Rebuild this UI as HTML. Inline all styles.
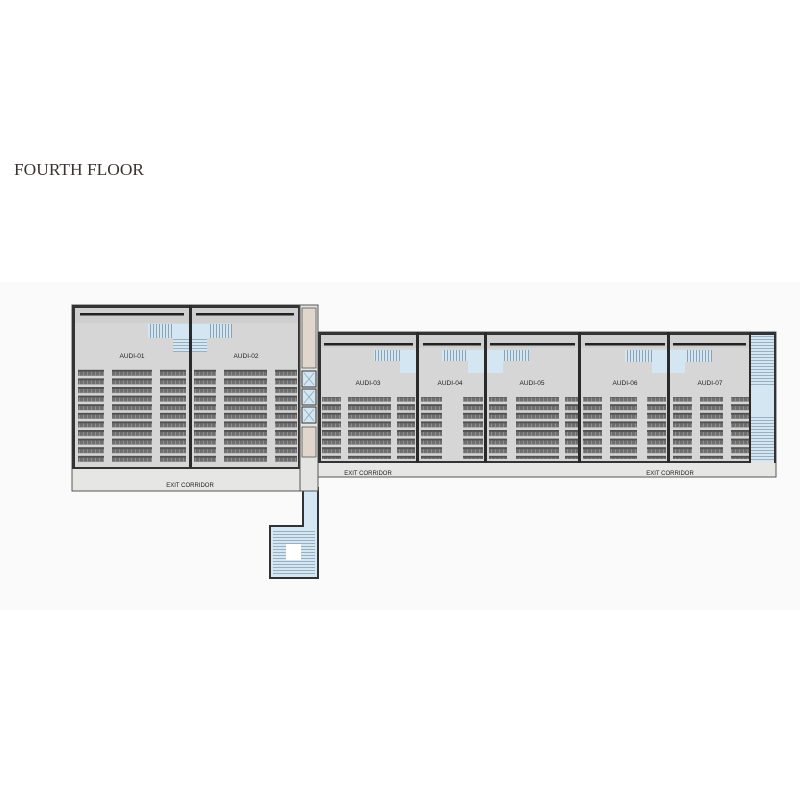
<!DOCTYPE html>
<html><head><meta charset="utf-8"><style>
html,body{margin:0;padding:0;background:#fff;width:800px;height:800px;overflow:hidden}
</style></head><body>
<svg width="800" height="800" viewBox="0 0 800 800" xmlns="http://www.w3.org/2000/svg" font-family="Liberation Sans, sans-serif">
<defs>
<pattern id="seat" x="0" y="0" width="4" height="8.6" patternUnits="userSpaceOnUse">
<rect x="0" y="0" width="4" height="6" fill="#6e6e6e"/>
<rect x="0" y="0" width="4" height="1.8" fill="#505050"/>
<rect x="3.3" y="2" width="0.7" height="4" fill="#9a9a9a"/>
</pattern>
<pattern id="stair" x="0" y="0" width="3" height="3" patternUnits="userSpaceOnUse">
<rect width="3" height="3" fill="#d3e6f1"/><rect width="1" height="3" fill="#8aa4b4"/>
</pattern>
<pattern id="stairh" x="0" y="0" width="3" height="3" patternUnits="userSpaceOnUse">
<rect width="3" height="3" fill="#d3e6f1"/><rect width="3" height="0.8" fill="#8aa4b4"/>
</pattern>
</defs>
<rect x="0" y="282" width="800" height="328" fill="#fafafa"/>
<text x="14" y="175" font-family="Liberation Serif, serif" font-size="17" fill="#3a3230" textLength="130" lengthAdjust="spacingAndGlyphs">FOURTH FLOOR</text>

<path d="M303 488 L318 488 L318 578 L270 578 L270 526 L303 526 Z" fill="#d5e7f2" stroke="#333" stroke-width="2"/>
<rect x="273" y="529" width="42" height="46" fill="url(#stairh)"/>
<rect x="286" y="544" width="15" height="16" fill="#fff"/>

<rect x="72" y="305" width="228" height="186" fill="#e6e6e4" stroke="#555" stroke-width="1"/>
<rect x="74" y="307" width="224" height="162" fill="#d6d6d6"/>
<rect x="74" y="307" width="224" height="16" fill="#cfcfcf"/>
<rect x="80" y="313" width="104" height="2.5" fill="#222"/>
<rect x="196" y="313" width="98" height="2.5" fill="#222"/>
<rect x="148" y="324" width="84" height="14" fill="url(#stair)"/>
<rect x="172" y="324" width="36" height="14" fill="#d3e6f1"/>
<rect x="173" y="338" width="34" height="14" fill="url(#stairh)"/>
<rect x="74" y="305" width="226" height="3" fill="#333"/>
<rect x="72" y="305" width="3" height="164" fill="#333"/>
<rect x="189" y="305" width="3" height="164" fill="#2a2a2a"/>
<rect x="298" y="305" width="3" height="164" fill="#333"/>
<rect x="74" y="467" width="226" height="2" fill="#333"/>
<text x="132" y="358" font-size="6.5" text-anchor="middle" fill="#222">AUDI-01</text>
<text x="246" y="358" font-size="6.5" text-anchor="middle" fill="#222">AUDI-02</text>
<g fill="url(#seat)">
<rect x="78" y="369" width="26" height="95"/><rect x="112" y="369" width="40" height="95"/><rect x="160" y="369" width="26" height="95"/>
<rect x="194" y="369" width="22" height="95"/><rect x="224" y="369" width="43" height="95"/><rect x="275" y="369" width="22" height="95"/>
</g>
<text x="190" y="487" font-size="6" text-anchor="middle" fill="#222">EXIT CORRIDOR</text>

<rect x="300" y="305" width="18" height="186" fill="#e4e4e2" stroke="#555" stroke-width="1"/>
<rect x="302" y="308" width="14" height="60" fill="#e0d6cc" stroke="#555" stroke-width="0.8"/>
<rect x="302" y="371" width="14" height="16" fill="#d3e6f1" stroke="#333"/>
<rect x="302" y="389" width="14" height="16" fill="#d3e6f1" stroke="#333"/>
<rect x="302" y="407" width="14" height="16" fill="#d3e6f1" stroke="#333"/>
<path d="M304 373l10 12M314 373l-10 12M304 391l10 12M314 391l-10 12M304 409l10 12M314 409l-10 12" stroke="#8aa4b4" stroke-width="0.7"/>
<rect x="302" y="427" width="14" height="30" fill="#e0d6cc" stroke="#555" stroke-width="0.8"/>

<rect x="318" y="332" width="458" height="145" fill="#e6e6e4" stroke="#555" stroke-width="1"/>
<rect x="320" y="334" width="430" height="128" fill="#d6d6d6"/>
<rect x="320" y="334" width="430" height="14" fill="#cfcfcf"/>
<rect x="750" y="334" width="24" height="128" fill="url(#stairh)"/>
<rect x="750" y="385" width="24" height="30" fill="#d3e6f1"/>
<rect x="318" y="332" width="458" height="3" fill="#333"/>
<rect x="318" y="332" width="3" height="131" fill="#333"/>
<rect x="774" y="332" width="2" height="131" fill="#333"/>
<rect x="320" y="461" width="430" height="2" fill="#333"/>
<g fill="#2a2a2a">
<rect x="416" y="332" width="3" height="131"/><rect x="484" y="332" width="3" height="131"/>
<rect x="578" y="332" width="3" height="131"/><rect x="667" y="332" width="3" height="131"/><rect x="749" y="332" width="2" height="131"/>
</g>
<g fill="#222">
<rect x="324" y="343" width="89" height="2.5"/><rect x="423" y="343" width="58" height="2.5"/>
<rect x="490" y="343" width="85" height="2.5"/><rect x="585" y="343" width="80" height="2.5"/><rect x="673" y="343" width="73" height="2.5"/>
</g>
<rect x="374" y="350" width="42" height="11" fill="url(#stair)"/><rect x="400" y="350" width="16" height="23" fill="#d3e6f1"/>
<rect x="442" y="350" width="42" height="11" fill="url(#stair)"/><rect x="468" y="350" width="16" height="23" fill="#d3e6f1"/>
<rect x="487" y="350" width="42" height="11" fill="url(#stair)"/><rect x="487" y="350" width="16" height="23" fill="#d3e6f1"/>
<rect x="625" y="350" width="42" height="12" fill="url(#stair)"/><rect x="652" y="350" width="15" height="23" fill="#d3e6f1"/>
<rect x="670" y="350" width="42" height="12" fill="url(#stair)"/><rect x="670" y="350" width="15" height="23" fill="#d3e6f1"/>
<g font-size="6.5" text-anchor="middle" fill="#222">
<text x="368" y="385">AUDI-03</text><text x="450" y="385">AUDI-04</text><text x="532" y="385">AUDI-05</text>
<text x="625" y="385">AUDI-06</text><text x="710" y="385">AUDI-07</text>
</g>
<g fill="url(#seat)">
<rect x="322" y="397" width="19" height="62"/><rect x="348" y="397" width="43" height="62"/><rect x="397" y="397" width="18" height="62"/>
<rect x="421" y="397" width="21" height="62"/><rect x="463" y="397" width="20" height="62"/>
<rect x="489" y="397" width="18" height="62"/><rect x="516" y="397" width="43" height="62"/><rect x="565" y="397" width="13" height="62"/>
<rect x="583" y="397" width="19" height="62"/><rect x="610" y="397" width="27" height="62"/><rect x="647" y="397" width="19" height="62"/>
<rect x="673" y="397" width="19" height="62"/><rect x="700" y="397" width="23" height="62"/><rect x="731" y="397" width="18" height="62"/>
</g>
<text x="368" y="475" font-size="6" text-anchor="middle" fill="#222">EXIT CORRIDOR</text>
<text x="670" y="475" font-size="6" text-anchor="middle" fill="#222">EXIT CORRIDOR</text>
</svg>
</body></html>
